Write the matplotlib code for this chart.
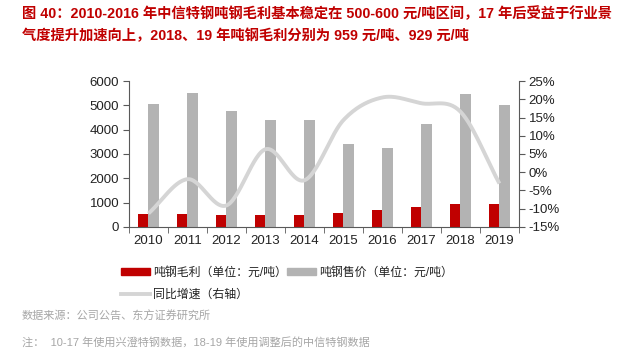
import numpy as np
import matplotlib
matplotlib.use("Agg")
import matplotlib.pyplot as plt
from matplotlib.lines import Line2D
from matplotlib.patches import Patch

plt.rcParams['font.family'] = ['Liberation Sans', 'Noto Sans CJK SC', 'DejaVu Sans']

# 数据
years = ['2010', '2011', '2012', '2013', '2014', '2015', '2016', '2017', '2018', '2019']
maoli = [550, 535, 494, 507, 507, 590, 686, 838, 959, 929]          # 吨钢毛利
shoujia = [5070, 5520, 4767, 4411, 4384, 3427, 3247, 4247, 5452, 5014]  # 吨钢售价
zengsu = [-11.3, -1.9, -9.1, 6.3, -2.2, 14.3, 20.5, 18.9, 16.6, -3.1]   # 同比增速 %

red = '#C00000'
gray = '#B3B3B3'
lgray = '#D5D5D5'
axc = '#595959'


def catmull(xs, ys, n=30):
    # 平滑曲线 (类似 Excel 平滑线)
    xs = np.asarray(xs, float)
    ys = np.asarray(ys, float)
    px = np.concatenate([[2 * xs[0] - xs[1]], xs, [2 * xs[-1] - xs[-2]]])
    py = np.concatenate([[2 * ys[0] - ys[1]], ys, [2 * ys[-1] - ys[-2]]])
    ox, oy = [], []
    for i in range(1, len(px) - 2):
        t = np.linspace(0, 1, n, endpoint=False)
        for p, o in ((px, ox), (py, oy)):
            p0, p1, p2, p3 = p[i - 1], p[i], p[i + 1], p[i + 2]
            o.extend(0.5 * ((2 * p1) + (-p0 + p2) * t + (2 * p0 - 5 * p1 + 4 * p2 - p3) * t ** 2
                            + (-p0 + 3 * p1 - 3 * p2 + p3) * t ** 3))
    ox.append(xs[-1])
    oy.append(ys[-1])
    return np.array(ox), np.array(oy)


fig = plt.figure(figsize=(6.2, 3.53), dpi=100)
ax = fig.add_axes([0.208, 0.357, 0.629, 0.4135])
x = np.arange(len(years))
w = 0.28
ax.bar(x - w / 2, maoli, w, color=red, zorder=2)
ax.bar(x + w / 2, shoujia, w, color=gray, zorder=2)
ax.set_xlim(-0.5, len(years) - 0.5)
ax.set_ylim(0, 6000)
ax.set_yticks(range(0, 6001, 1000))
ax.set_xticks(x)
ax.set_xticklabels(years)
ax.set_xticks(np.arange(-0.5, len(years)), minor=True)
ax.tick_params(axis='x', which='major', length=0, pad=6, labelsize=9.5, colors='#222222')
ax.tick_params(axis='x', which='minor', length=4, color=axc, direction='out')
ax.tick_params(axis='y', length=4, color=axc, labelsize=9.5, labelcolor='#222222', pad=3)
for s in ['top', 'right']:
    ax.spines[s].set_visible(False)
for s in ['left', 'bottom']:
    ax.spines[s].set_color(axc)

ax2 = ax.twinx()
sx, sy = catmull(x, zengsu)
ax2.plot(sx, sy, color=lgray, lw=2.8, solid_capstyle='butt', zorder=3)
ax2.set_ylim(-15, 25)
ax2.set_yticks(range(-15, 26, 5))
ax2.set_yticklabels([f'{v}%' for v in range(-15, 26, 5)])
ax2.tick_params(axis='y', length=4, color=axc, labelsize=9.5, labelcolor='#222222', pad=3)
for s in ['top', 'left', 'bottom']:
    ax2.spines[s].set_visible(False)
ax2.spines['right'].set_color(axc)

# 图例按行排列：第一行两项，第二行一项
handles = [Patch(color=red), Line2D([], [], color=lgray, lw=2.8), Patch(color=gray)]
labels = ['吨钢毛利（单位：元/吨）', '同比增速（右轴）', '吨钢售价（单位：元/吨）']
fig.legend(handles, labels, loc='upper left', bbox_to_anchor=(0.178, 0.275), ncol=2,
           frameon=False, fontsize=8.6, handlelength=2.4, handleheight=0.45,
           columnspacing=0.0, handletextpad=0.3, labelspacing=0.85, labelcolor='#222222')

fig.text(0.035, 0.96, '图 40：2010-2016 年中信特钢吨钢毛利基本稳定在 500-600 元/吨区间，17 年后受益于行业景',
         color=red, fontsize=10.3, fontweight='bold', va='center', ha='left')
fig.text(0.035, 0.898, '气度提升加速向上，2018、19 年吨钢毛利分别为 959 元/吨、929 元/吨',
         color=red, fontsize=10.3, fontweight='bold', va='center', ha='left')
fig.text(0.035, 0.105, '数据来源：公司公告、东方证券研究所', color='#A6A6A6', fontsize=8, va='center')
fig.text(0.035, 0.03, '注：  10-17 年使用兴澄特钢数据，18-19 年使用调整后的中信特钢数据',
         color='#A6A6A6', fontsize=8, va='center')

fig.savefig('out.png', dpi=100, facecolor='white')
